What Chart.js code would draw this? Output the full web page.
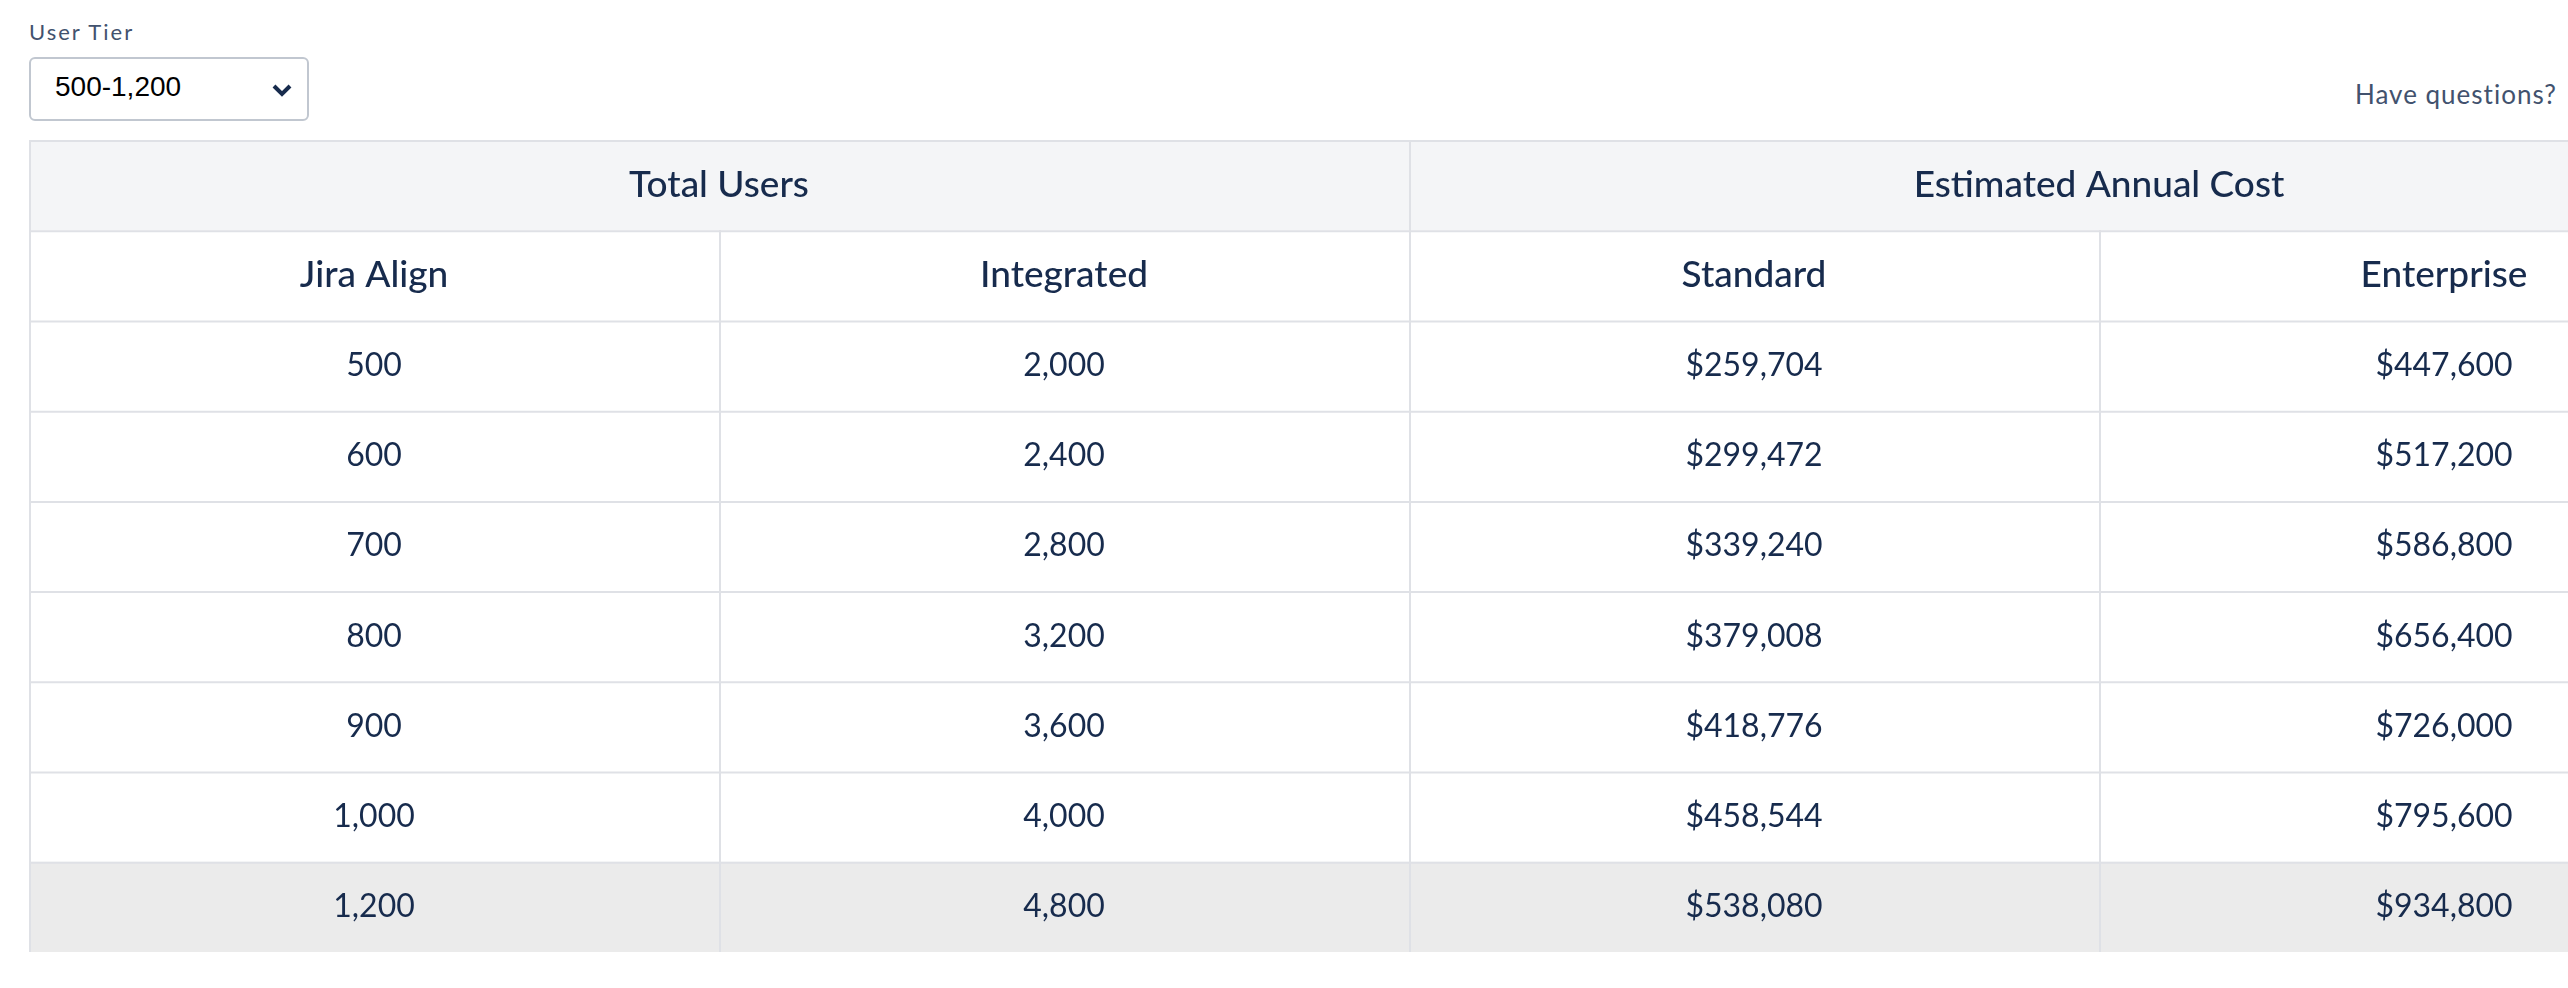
<!DOCTYPE html>
<html>
<head>
<meta charset="utf-8">
<script src="https://cdn.jsdelivr.net/npm/chart.js@4"></script>
<style>
  body { margin: 0; width: 2568px; height: 988px; overflow: hidden; background: #fff; font-family: Lato, "Open Sans", sans-serif; position: relative; }
  .lbl { position: absolute; left: 29px; top: 18px; font-size: 22px; letter-spacing: 2px; color: #42526e; }
  .sel { position: absolute; left: 29px; top: 57px; width: 280px; height: 64px; border: 2px solid #c1c7d0; border-radius: 6px; box-sizing: border-box; }
  .sel span { position: absolute; left: 24px; top: 12px; font-family: "Liberation Sans", Arial, sans-serif; font-size: 28px; color: #000; }
  .sel svg { position: absolute; left: 240px; top: 24px; }
  .q { position: absolute; left: 2355px; top: 78px; font-size: 26px; letter-spacing: 1px; color: #42526e; white-space: nowrap; }
  #wrap { position: absolute; left: 29px; top: 140px; width: 2760px; height: 812px; }
</style>
</head>
<body>
<div class="lbl">User Tier</div>
<div class="sel"><span>500-1,200</span>
  <svg width="22" height="14" viewBox="0 0 22 14"><path d="M3 3 L11 11 L19 3" stroke="#172b4d" stroke-width="4" fill="none"/></svg></div>
<div class="q">Have questions?</div>
<div id="wrap"><canvas id="tbl" width="2760" height="812"></canvas></div>
<script>
// column groups and headers
const groupHeaders = ["Total Users", "Estimated Annual Cost"];
const columnHeaders = ["Jira Align", "Integrated", "Standard", "Enterprise"];

// table values
const jiraAlign = ["500", "600", "700", "800", "900", "1,000", "1,200"];
const integrated = ["2,000", "2,400", "2,800", "3,200", "3,600", "4,000", "4,800"];
const standard = ["$259,704", "$299,472", "$339,240", "$379,008", "$418,776", "$458,544", "$538,080"];
const enterprise = ["$447,600", "$517,200", "$586,800", "$656,400", "$726,000", "$795,600", "$934,800"];

const columns = [jiraAlign, integrated, standard, enterprise];
const rowCount = jiraAlign.length + 2;

const tablePlugin = {
  id: "tablePlugin",
  afterDraw(chart) {
    const ctx = chart.ctx;
    const x = chart.scales.x, y = chart.scales.y;
    const px = v => x.getPixelForValue(v);
    const py = v => y.getPixelForValue(v);
    ctx.save();
    // backgrounds
    ctx.fillStyle = "#f4f5f7";
    ctx.fillRect(px(0), py(0), px(4) - px(0), py(1) - py(0));
    ctx.fillStyle = "#ebebeb";
    ctx.fillRect(px(0), py(rowCount - 1), px(4) - px(0), py(rowCount) - py(rowCount - 1));
    // grid
    ctx.strokeStyle = "#dfe1e6";
    ctx.lineWidth = 2;
    for (let r = 0; r <= rowCount; r++) {
      ctx.beginPath(); ctx.moveTo(px(0), py(r) + 1); ctx.lineTo(px(4), py(r) + 1); ctx.stroke();
    }
    for (let c = 0; c <= 4; c++) {
      const top = (c === 1 || c === 3) ? py(1) : py(0);
      ctx.beginPath(); ctx.moveTo(px(c) + 1, top); ctx.lineTo(px(c) + 1, py(rowCount)); ctx.stroke();
    }
    // text
    ctx.fillStyle = "#172b4d";
    ctx.textAlign = "center";
    ctx.textBaseline = "middle";
    ctx.font = "500 37px Lato, 'Open Sans', sans-serif";
    groupHeaders.forEach((t, i) => ctx.fillText(t, px(i * 2 + 1), py(0.5)));
    columnHeaders.forEach((t, i) => ctx.fillText(t, px(i + 0.5), py(1.5)));
    ctx.font = "32px Lato, 'Open Sans', sans-serif";
    columns.forEach((col, c) => col.forEach((t, r) => ctx.fillText(t, px(c + 0.5), py(r + 2.5))));
    ctx.restore();
  }
};

new Chart(document.getElementById("tbl"), {
  type: "scatter",
  data: { datasets: [{ data: [] }] },
  options: {
    responsive: false,
    animation: false,
    devicePixelRatio: 1,
    layout: { padding: 0 },
    plugins: { legend: { display: false }, tooltip: { enabled: false } },
    scales: {
      x: { type: "linear", min: 0, max: 4, display: false },
      y: { type: "linear", min: 0, max: rowCount, reverse: true, display: false }
    }
  },
  plugins: [tablePlugin]
});
</script>
</body>
</html>
